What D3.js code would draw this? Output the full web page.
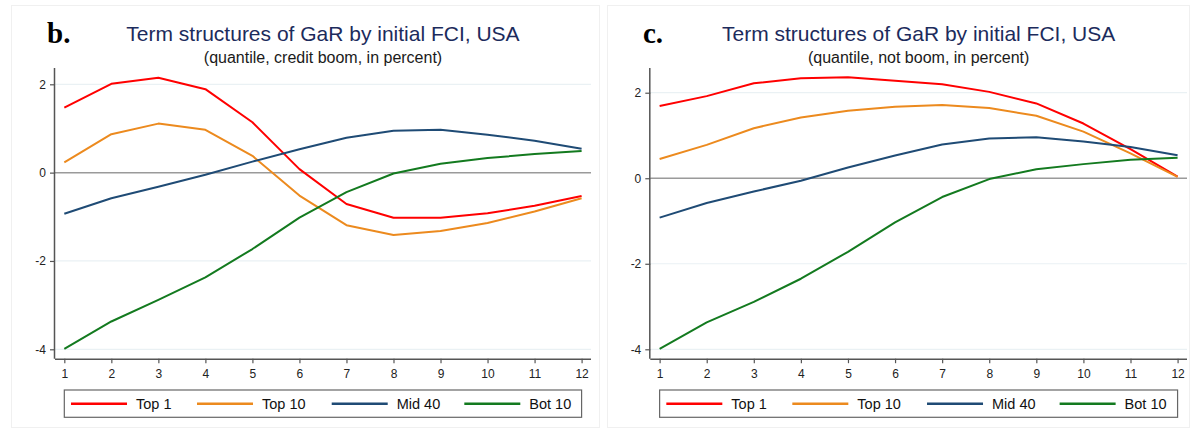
<!DOCTYPE html>
<html>
<head>
<meta charset="utf-8">
<script src="https://cdn.jsdelivr.net/npm/d3@7/dist/d3.min.js"></script>
<style>
  html, body { margin: 0; padding: 0; background: #fff; }
  svg { display: block; }
  text { font-family: "Liberation Sans", Arial, sans-serif; }
</style>
</head>
<body>
<svg id="chart" width="1193" height="431"></svg>
<script>
// ---------- DATA ----------
const horizons = [1, 2, 3, 4, 5, 6, 7, 8, 9, 10, 11, 12];
const yTicks = [-4, -2, 0, 2];
const seriesNames = ["Top 1", "Top 10", "Mid 40", "Bot 10"];

// Panel b: credit boom
const boomTop1  = [1.47, 2.01, 2.15, 1.89, 1.14, 0.08, -0.71, -1.02, -1.02, -0.92, -0.75, -0.53];
const boomTop10 = [0.23, 0.87, 1.11, 0.97, 0.38, -0.52, -1.19, -1.41, -1.32, -1.14, -0.88, -0.58];
const boomMid40 = [-0.93, -0.58, -0.32, -0.05, 0.25, 0.53, 0.79, 0.95, 0.97, 0.86, 0.72, 0.54];
const boomBot10 = [-3.99, -3.37, -2.88, -2.37, -1.73, -1.02, -0.44, -0.02, 0.20, 0.33, 0.42, 0.49];

// Panel c: not boom
const notTop1  = [1.69, 1.92, 2.22, 2.34, 2.36, 2.28, 2.20, 2.02, 1.75, 1.28, 0.68, 0.04];
const notTop10 = [0.45, 0.78, 1.17, 1.42, 1.58, 1.67, 1.71, 1.64, 1.46, 1.09, 0.58, 0.03];
const notMid40 = [-0.92, -0.58, -0.31, -0.06, 0.25, 0.53, 0.79, 0.93, 0.96, 0.86, 0.73, 0.54];
const notBot10 = [-3.99, -3.37, -2.89, -2.35, -1.72, -1.03, -0.44, -0.02, 0.21, 0.33, 0.43, 0.48];

const colors = ["#ff0000", "#ec8a1e", "#1f4b75", "#137a1f"];

// ---------- DRAW ----------
const svg = d3.select("#chart");

function drawPanel(cfg) {
  const g = svg.append("g");

  // faint panel frame
  g.append("rect")
    .attr("x", cfg.frame[0]).attr("y", cfg.frame[1])
    .attr("width", cfg.frame[2]).attr("height", cfg.frame[3])
    .attr("fill", "none").attr("stroke", "#f0f0f0").attr("stroke-width", 1);

  const x = d3.scaleLinear().domain([0.802, 12.2]).range([cfg.left, cfg.right]);
  const y = d3.scaleLinear().domain(cfg.yDomain).range([cfg.bottom, cfg.top]);

  // gridlines
  g.append("g").selectAll("line")
    .data(yTicks.filter(d => d !== 0))
    .join("line")
    .attr("x1", cfg.left).attr("x2", cfg.right)
    .attr("y1", d => y(d)).attr("y2", d => y(d))
    .attr("stroke", "#eaf1f4").attr("stroke-width", 1.2);

  // zero line
  g.append("line")
    .attr("x1", cfg.left).attr("x2", cfg.right)
    .attr("y1", y(0)).attr("y2", y(0))
    .attr("stroke", "#9a9a9a").attr("stroke-width", 1.5);

  // y axis
  const yAxis = d3.axisLeft(y).tickValues(yTicks).tickSize(5).tickPadding(4).tickFormat(d => String(d));
  const ya = g.append("g").attr("transform", `translate(${cfg.left},0)`).call(yAxis);
  ya.select(".domain").attr("d", `M-0.5,${cfg.top}V${cfg.bottom}`).attr("stroke", "#555").attr("stroke-width", 1.5);
  ya.selectAll(".tick line").attr("stroke", "#555").attr("stroke-width", 1.2);
  ya.selectAll(".tick text").attr("font-size", 12).attr("fill", "#222")
    .style("font-family", '"Liberation Sans", Arial, sans-serif');

  // x axis
  const xAxis = d3.axisBottom(x).tickValues(horizons).tickSize(4.5).tickPadding(6).tickFormat(d => String(d));
  const xa = g.append("g").attr("transform", `translate(0,${cfg.bottom})`).call(xAxis);
  xa.select(".domain").attr("d", `M${cfg.left},0.5H${cfg.right}`).attr("stroke", "#555").attr("stroke-width", 1.5);
  xa.selectAll(".tick line").attr("stroke", "#555").attr("stroke-width", 1.2);
  xa.selectAll(".tick text").attr("font-size", 12).attr("fill", "#222")
    .style("font-family", '"Liberation Sans", Arial, sans-serif');

  // lines
  const line = d3.line().x((d, i) => x(horizons[i])).y(d => y(d));
  g.append("g").selectAll("path")
    .data(cfg.series)
    .join("path")
    .attr("d", d => line(d))
    .attr("fill", "none")
    .attr("stroke", (d, i) => colors[i])
    .attr("stroke-width", 2)
    .attr("stroke-linejoin", "round");

  // titles
  const cx = (cfg.left + cfg.right) / 2;
  g.append("text").attr("x", cx).attr("y", 40.7).attr("text-anchor", "middle")
    .attr("font-size", 21).attr("fill", "#1c2b5c").text(cfg.title);
  g.append("text").attr("x", cx).attr("y", 63).attr("text-anchor", "middle")
    .attr("font-size", 16).attr("fill", "#1a1a1a").text(cfg.subtitle);
  g.append("text").attr("x", cfg.letterX).attr("y", 42.7)
    .style("font-family", '"Liberation Serif", "Times New Roman", serif')
    .attr("font-weight", "bold").attr("font-size", 29).attr("fill", "#000").text(cfg.letter);

  // legend
  const lx = x(1), lr = x(12);
  const ly = 390, lh = 27.3;
  g.append("rect").attr("x", lx).attr("y", ly).attr("width", lr - lx).attr("height", lh)
    .attr("fill", "#fff").attr("stroke", "#666").attr("stroke-width", 1.2);
  const offs = [6.7, 132.7, 267.4, 400];
  const items = g.append("g").selectAll("g").data(seriesNames).join("g")
    .attr("transform", (d, i) => `translate(${lx + offs[i]},${ly + lh / 2})`);
  items.append("line").attr("x1", 0).attr("x2", 56).attr("y1", 0).attr("y2", 0)
    .attr("stroke", (d, i) => colors[i]).attr("stroke-width", 2.5);
  items.append("text").attr("x", 65).attr("y", 5).attr("font-size", 14.5).attr("fill", "#111").text(d => d);
}

drawPanel({
  frame: [11.5, 5.5, 588, 422],
  left: 55, right: 591, top: 68, bottom: 358.7,
  yDomain: [-4.213, 2.369],
  series: [boomTop1, boomTop10, boomMid40, boomBot10],
  title: "Term structures of GaR by initial FCI, USA",
  subtitle: "(quantile, credit boom, in percent)",
  letter: "b.", letterX: 47
});

drawPanel({
  frame: [607.5, 5.5, 582, 422],
  left: 650.3, right: 1187, top: 68, bottom: 358.7,
  yDomain: [-4.22, 2.578],
  series: [notTop1, notTop10, notMid40, notBot10],
  title: "Term structures of GaR by initial FCI, USA",
  subtitle: "(quantile, not boom, in percent)",
  letter: "c.", letterX: 643
});
</script>
</body>
</html>
